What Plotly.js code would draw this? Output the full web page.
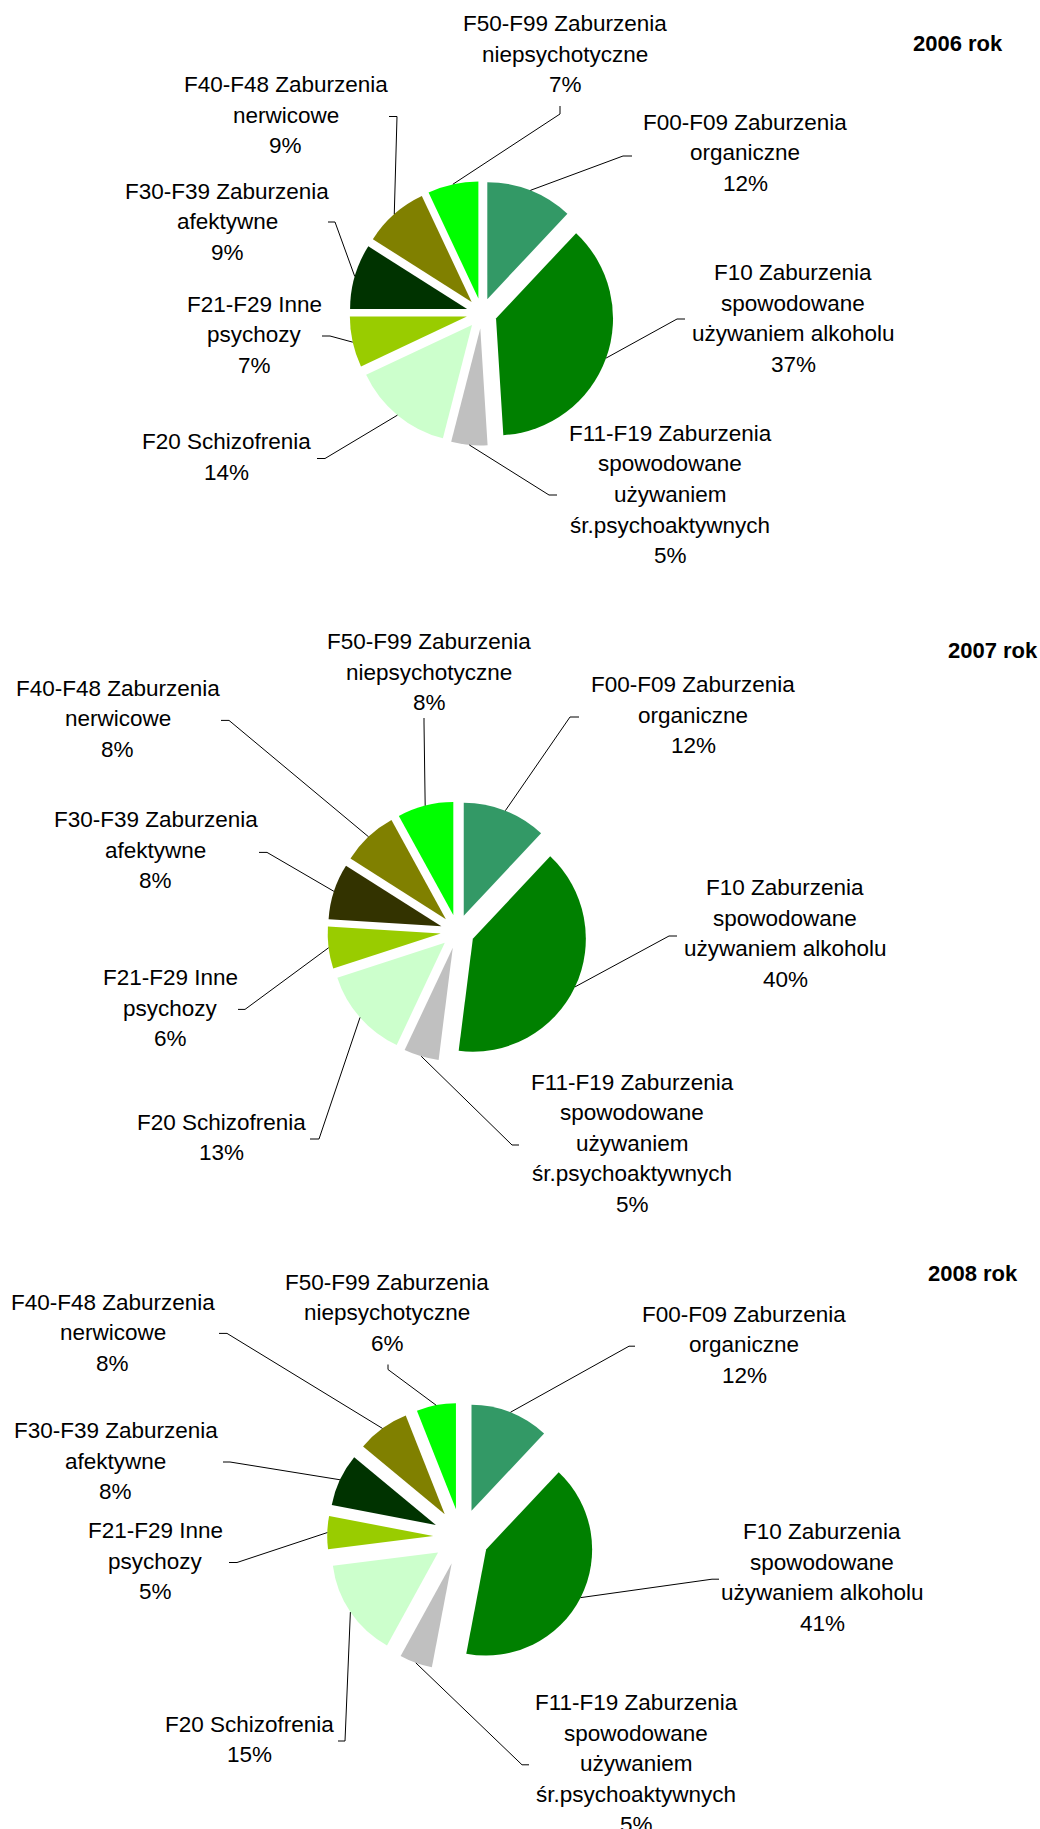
<!DOCTYPE html>
<html><head><meta charset="utf-8">
<script src="https://cdn.plot.ly/plotly-3.0.1.min.js"></script>
<style>html,body{margin:0;padding:0;background:#fff}</style>
</head><body><div id="chart" style="width:1040px;height:1829px"></div>
<script>
// ---- data ----
const categories = ['F00-F09', 'F10', 'F11-F19', 'F20', 'F21-F29', 'F30-F39', 'F40-F48', 'F50-F99'];
const labelLines = [
  ['F00-F09 Zaburzenia', 'organiczne'],
  ['F10 Zaburzenia', 'spowodowane', 'używaniem alkoholu'],
  ['F11-F19 Zaburzenia', 'spowodowane', 'używaniem', 'śr.psychoaktywnych'],
  ['F20 Schizofrenia'],
  ['F21-F29 Inne', 'psychozy'],
  ['F30-F39 Zaburzenia', 'afektywne'],
  ['F40-F48 Zaburzenia', 'nerwicowe'],
  ['F50-F99 Zaburzenia', 'niepsychotyczne']
];
const years = ['2006 rok', '2007 rok', '2008 rok'];
const values2006 = [12, 37, 5, 14, 7, 9, 9, 7];
const values2007 = [12, 40, 5, 13, 6, 8, 8, 8];
const values2008 = [12, 41, 5, 15, 5, 8, 8, 6];
const colors2006 = ['#339966', '#008000', '#C0C0C0', '#CCFFCC', '#99CC00', '#003300', '#808000', '#00FF00'];
const colors2007 = ['#339966', '#008000', '#C0C0C0', '#CCFFCC', '#99CC00', '#333300', '#808000', '#00FF00'];
const colors2008 = ['#339966', '#008000', '#C0C0C0', '#CCFFCC', '#99CC00', '#003300', '#808000', '#00FF00'];

// ---- layout (pixels) ----
const W = 1040, H = 1829;
const pieGeom = [
  {cx: 481.7, cy: 313.3, r: 117, pull: 0.13},
  {cx: 457.5, cy: 931.5, r: 113, pull: 0.15},
  {cx: 461.2, cy: 1536.8, r: 106, pull: 0.264}
];
// per label: [text centre x, first line y, knee x, knee y, tick x, tick y]
const labelPos2006 = [
  [745, 122, 623, 156, 632, 156],
  [793, 273, 677, 319, 685, 319],
  [670, 433.5, 549, 495, 557, 495],
  [226, 441.5, 325, 458.5, 317, 458.5],
  [254, 304, 330, 336, 322, 336],
  [227, 191, 335, 222, 328, 222],
  [285.5, 84.6, 397, 116.5, 389, 116.5],
  [565, 24, 560, 114, 560, 106]
];
const labelPos2007 = [
  [693, 684.7, 570, 717, 579, 717],
  [785, 888, 669, 936, 677, 936],
  [632, 1082, 512, 1145, 519, 1145],
  [221.5, 1122, 319, 1139, 310, 1139],
  [170, 977.6, 245, 1009.4, 238, 1009.4],
  [155.5, 819.8, 267, 852.4, 259, 852.4],
  [117.5, 688, 229, 720.4, 221, 720.4],
  [429, 641.7, 424, 723, 424, 718]
];
const labelPos2008 = [
  [744, 1314.4, 629, 1346.2, 635, 1346.2],
  [822, 1531.5, 712, 1579.2, 719, 1579.2],
  [636, 1702.7, 522, 1764.8, 529, 1764.8],
  [249, 1724, 345, 1741, 338, 1741],
  [155, 1530.7, 237, 1562.5, 229, 1562.5],
  [115.5, 1430.9, 230, 1462, 223, 1462],
  [112.5, 1302.3, 227, 1333.4, 219, 1333.4],
  [387, 1282, 388, 1369.5, 388, 1364.5]
];
const titlePos = [[957.5, 44, 'center'], [1040, 650, 'right'], [973, 1273.6, 'center']];
const LINE = 30.5;
const FONT = 'Liberation Sans, Arial, sans-serif';

const allValues = [values2006, values2007, values2008];
const allColors = [colors2006, colors2007, colors2008];
const allPos = [labelPos2006, labelPos2007, labelPos2008];

const px = x => x / W;
const py = y => 1 - y / H;

const traces = [];
const annotations = [];
const shapes = [];

allValues.forEach((vals, k) => {
  const g = pieGeom[k];
  const half = g.r * (1 + g.pull);
  traces.push({
    type: 'pie',
    labels: categories,
    values: vals,
    marker: {colors: allColors[k], line: {width: 0}},
    pull: vals.map(() => g.pull),
    sort: false,
    direction: 'clockwise',
    rotation: 0,
    textinfo: 'none',
    textposition: 'none',
    hoverinfo: 'label+percent',
    domain: {
      x: [(g.cx - half) / W, (g.cx + half) / W],
      y: [1 - (g.cy + half) / H, 1 - (g.cy - half) / H]
    }
  });
  const total = vals.reduce((a, b) => a + b, 0);
  let cum = 0;
  vals.forEach((v, i) => {
    const mid = (cum + v / 2) / total * 2 * Math.PI;
    cum += v;
    const R = g.r * (1 + g.pull);
    const Px = g.cx + R * Math.sin(mid);
    const Py = g.cy - R * Math.cos(mid);
    const p = allPos[k][i];
    const lines = labelLines[i].concat([Math.round(v / total * 100) + '%']);
    lines.forEach((t, j) => {
      annotations.push({
        xref: 'paper', yref: 'paper', x: px(p[0]), y: py(p[1] + j * LINE),
        xanchor: 'center', yanchor: 'middle', showarrow: false, text: t,
        font: {family: FONT, size: 22.5, color: '#000'}
      });
    });
    shapes.push({
      type: 'path', xref: 'paper', yref: 'paper',
      path: `M ${px(p[4])},${py(p[5])} L ${px(p[2])},${py(p[3])} L ${px(Px)},${py(Py)}`,
      line: {color: '#000', width: 1}
    });
  });
  const tp = titlePos[k];
  annotations.push({
    xref: 'paper', yref: 'paper', x: px(tp[0]), y: py(tp[1]),
    xanchor: tp[2], yanchor: 'middle', showarrow: false, text: '<b>' + years[k] + '</b>',
    font: {family: FONT, size: 22, color: '#000'}
  });
});

Plotly.newPlot('chart', traces, {
  width: W, height: H,
  margin: {l: 0, r: 0, t: 0, b: 0},
  paper_bgcolor: '#fff', plot_bgcolor: '#fff',
  showlegend: false,
  annotations: annotations,
  shapes: shapes
}, {displayModeBar: false, staticPlot: true});
</script></body></html>
